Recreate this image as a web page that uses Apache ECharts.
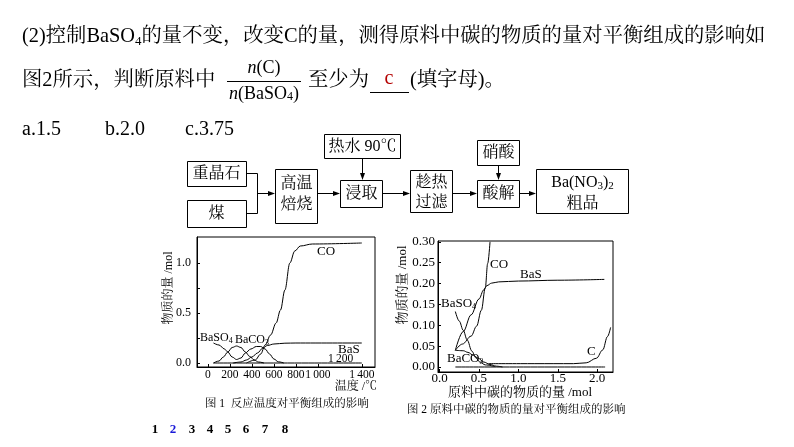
<!DOCTYPE html>
<html><head><meta charset="utf-8">
<script src="https://cdn.jsdelivr.net/npm/echarts@6/dist/echarts.min.js"></script>
<style>html,body{margin:0;padding:0;background:#fff}#c{width:794px;height:447px}</style>
</head><body><div id="c"></div>
<script>
// ================= DATA =================
// Figure 1: temperature (°C) vs amount (mol)
const fig1XTicks = [0, 200, 400, 600, 800, 1000, 1400];
const fig1YTicks = [0, 0.5, 1.0];
const fig1YMinor = [0, 0.25, 0.5, 0.75, 1.0];
const fig1CO = [[350,0.0],[430,0.03],[480,0.09],[520,0.18],[570,0.28],[620,0.4],[660,0.53],[700,0.73],[745,1.0],[790,1.12],[840,1.17],[950,1.19],[1400,1.2]];
const fig1BaSO4 = [[50,0.2],[100,0.18],[150,0.14],[180,0.11],[220,0.06],[260,0.035],[300,0.05],[340,0.1],[390,0.14],[440,0.165],[480,0.165],[520,0.14],[560,0.09],[600,0.04],[640,0.012],[690,0.0]];
const fig1BaCO3 = [[50,0.0],[100,0.02],[140,0.06],[180,0.11],[220,0.155],[260,0.17],[300,0.155],[340,0.11],[380,0.065],[420,0.03],[460,0.01],[510,0.0]];
const fig1BaS = [[230,0.0],[300,0.01],[350,0.03],[400,0.06],[450,0.1],[500,0.15],[540,0.175],[600,0.19],[700,0.198],[800,0.2],[1400,0.2]];
const fig1Base = [[50,0.0],[1400,0.0]];
// Figure 2: amount of carbon (mol) vs amount (mol)
const fig2XTicks = [0, 0.5, 1.0, 1.5, 2.0];
const fig2YTicks = [0, 0.05, 0.10, 0.15, 0.20, 0.25, 0.30];
const fig2CO = [[0.2,0.04],[0.29,0.055],[0.4,0.074],[0.47,0.098],[0.53,0.136],[0.58,0.19],[0.61,0.248],[0.64,0.30]];
const fig2BaS = [[0.2,0.04],[0.3,0.085],[0.4,0.125],[0.5,0.163],[0.56,0.185],[0.6,0.195],[0.66,0.201],[0.75,0.204],[1.0,0.206],[1.5,0.208],[2.09,0.21]];
const fig2BaSO4 = [[0.2,0.133],[0.25,0.11],[0.3,0.088],[0.35,0.065],[0.41,0.038],[0.46,0.022],[0.51,0.012],[0.58,0.005],[0.7,0.001]];
const fig2BaCO3 = [[0.2,0.04],[0.3,0.039],[0.36,0.035],[0.43,0.028],[0.49,0.021],[0.56,0.012],[0.64,0.006],[0.72,0.002],[0.8,0.0]];
const fig2C = [[0.62,0.008],[1.2,0.008],[1.7,0.008],[1.86,0.01],[1.99,0.021],[2.07,0.041],[2.13,0.073],[2.17,0.095]];
const fig2Base = [[0.2,0.0],[2.1,0.0]];

// ================= LAYOUT HELPERS =================
const FAM = "'Liberation Serif','Noto Serif CJK SC','Noto Sans CJK SC',serif";
const mctx = document.createElement('canvas').getContext('2d');
function tw(t, size, st, wt){ mctx.font = (st||'normal')+' '+(wt||'normal')+' '+size+'px '+FAM; return mctx.measureText(t).width; }
function txt(x, y, t, size, o){ o=o||{}; return {type:'text', x:x, y:y, rotation:o.rot||0, z:10, style:{text:t, fontSize:size, fontFamily:FAM, fontStyle:o.st||'normal', fontWeight:o.wt||'normal', fill:o.color||'#000', align:o.align||'left', verticalAlign:'middle'}}; }
function run(x, y, segs, center){
  let w = 0; segs.forEach(s=>{ w += tw(s.t, s.size, s.st, s.wt); });
  let cx = center ? x - w/2 : x; const out=[];
  segs.forEach(s=>{ out.push(txt(cx, y+(s.dy||0), s.t, s.size, s)); cx += tw(s.t, s.size, s.st, s.wt); });
  return out;
}
function box(x1,y1,x2,y2){ return {type:'rect', z:5, shape:{x:x1+0.5,y:y1+0.5,width:x2-x1,height:y2-y1}, style:{fill:'#fff',stroke:'#000',lineWidth:1}}; }
function seg(x1,y1,x2,y2){ return {type:'line', z:5, shape:{x1:x1,y1:y1,x2:x2,y2:y2}, style:{stroke:'#000',lineWidth:1}}; }
function arrowH(x1,x2,y){ return [seg(x1,y+0.5,x2-5,y+0.5), {type:'polygon', z:6, shape:{points:[[x2,y+0.5],[x2-7,y-2],[x2-7,y+3]]}, style:{fill:'#000'}}]; }
function arrowV(x,y1,y2){ return [seg(x+0.5,y1,x+0.5,y2-5), {type:'polygon', z:6, shape:{points:[[x+0.5,y2],[x-2,y2-7],[x+3,y2-7]]}, style:{fill:'#000'}}]; }

let G = [];
// ---- top text ----
const TS = 20.35;
G = G.concat(run(22, 37, [{t:'(2)控制BaSO',size:TS},{t:'4',size:13,dy:5},{t:'的量不变，改变C的量，测得原料中碳的物质的量对平衡组成的影响如',size:TS}]));
G = G.concat(run(22, 81, [{t:'图2所示，判断原料中',size:TS}]));
G = G.concat(run(264, 68, [{t:'n',size:18,st:'italic'},{t:'(C)',size:18}], true));
G.push(seg(227, 81.5, 301, 81.5));
G = G.concat(run(264, 94, [{t:'n',size:18,st:'italic'},{t:'(BaSO',size:18},{t:'4',size:12,dy:3},{t:')',size:18}], true));
G = G.concat(run(308, 81, [{t:'至少为',size:TS}]));
G.push(seg(370, 92.5, 409, 92.5));
G.push(txt(389, 79, 'c', 20, {color:'#b40000', align:'center'}));
G = G.concat(run(410, 81, [{t:'(填字母)。',size:TS}]));
G.push(txt(22, 130, 'a.1.5', 20));
G.push(txt(105, 130, 'b.2.0', 20));
G.push(txt(185, 130, 'c.3.75', 20));

// ---- flow chart ----
G.push(box(187,161,246,186)); G.push(txt(216.5,174,'重晶石',16,{align:'center'}));
G.push(box(187,200,246,227)); G.push(txt(216.5,214,'煤',16,{align:'center'}));
G.push(seg(246,173.5,257.5,173.5)); G.push(seg(246,213.5,257.5,213.5)); G.push(seg(257.5,173.5,257.5,213.5));
G = G.concat(arrowH(257,275,193));
G.push(box(275,169,317,223)); G.push(txt(296.5,184,'高温',16,{align:'center'})); G.push(txt(296.5,205,'焙烧',16,{align:'center'}));
G = G.concat(arrowH(317,340,193));
G.push(box(324,134,400,158)); G.push(txt(362.5,146.5,'热水 90℃',16,{align:'center'}));
G = G.concat(arrowV(362,158,180));
G.push(box(340,180,382,207)); G.push(txt(361.5,194,'浸取',16,{align:'center'}));
G = G.concat(arrowH(382,410,193));
G.push(box(410,170,452,212)); G.push(txt(431.5,183,'趁热',16,{align:'center'})); G.push(txt(431.5,203,'过滤',16,{align:'center'}));
G = G.concat(arrowH(452,477,193));
G.push(box(477,140,519,165)); G.push(txt(498.5,153,'硝酸',16,{align:'center'}));
G = G.concat(arrowV(498,165,180));
G.push(box(477,180,519,207)); G.push(txt(498.5,194,'酸解',16,{align:'center'}));
G = G.concat(arrowH(519,536,193));
G.push(box(536,169,628,213));
G = G.concat(run(582.5,183,[{t:'Ba(NO',size:16},{t:'3',size:11,dy:3},{t:')',size:16},{t:'2',size:11,dy:3}], true));
G.push(txt(582.5,204,'粗品',16,{align:'center'}));

// ---- figure 1 texts ----
G.push(txt(169, 288, '物质的量 /mol', 12, {rot:Math.PI/2, align:'center'}));
G = G.concat(run(200, 338, [{t:'BaSO',size:12},{t:'4',size:8,dy:3}]));
G = G.concat(run(235, 340, [{t:'BaCO',size:12},{t:'3',size:8,dy:3}]));
G.push(txt(317, 252, 'CO', 13));
G.push(txt(338, 350, 'BaS', 13));
G.push(txt(328, 359, '1\u2009200', 11.5));
G.push(txt(377, 387, '温度 /℃', 12, {align:'right'}));
G.push(txt(205, 404, '图 1  反应温度对平衡组成的影响', 11.5));
// ---- figure 2 texts ----
G.push(txt(403, 285, '物质的量 /mol', 13, {rot:Math.PI/2, align:'center'}));
G.push(txt(490, 265, 'CO', 13));
G.push(txt(520, 275, 'BaS', 13));
G = G.concat(run(441, 304, [{t:'BaSO',size:13},{t:'4',size:8,dy:3}]));
G = G.concat(run(447, 359, [{t:'BaCO',size:13},{t:'3',size:8,dy:3}]));
G.push(txt(587, 352, 'C', 13));
G.push(txt(520, 393, '原料中碳的物质的量 /mol', 13, {align:'center'}));
G.push(txt(407, 410, '图 2 原料中碳的物质的量对平衡组成的影响', 11.5));
// ---- page numbers ----
const pageNums = ['1','2','3','4','5','6','7','8'];
const pageX = [155,173,192,210,228,246,265,285];
pageNums.forEach((p,i)=>G.push(txt(pageX[i],430,p,13,{wt:'bold',align:'center',color: p==='2' ? '#1a1ad8' : '#000'})));

// ================= CHART =================
const axisCommon = {axisLine:{onZero:false, lineStyle:{color:'#000',width:1}}, splitLine:{show:false}};
function lineSeries(data, xi){ return {type:'line', xAxisIndex:xi, yAxisIndex:xi, data:data, smooth:0.35, smoothMonotone:'x', symbol:'none', silent:true, lineStyle:{color:'#000',width:1}}; }
const option = {
  animation:false,
  backgroundColor:'#fff',
  grid:[{left:197, top:237, width:178, height:130, show:true, borderColor:'#000', borderWidth:1, backgroundColor:'transparent'},
        {left:438, top:241, width:175, height:131, show:true, borderColor:'#000', borderWidth:1, backgroundColor:'transparent'}],
  xAxis:[
    Object.assign({gridIndex:0, type:'value', min:-100, max:1520,
      axisTick:{inside:true, length:3, customValues:fig1XTicks, lineStyle:{color:'#000'}},
      axisLabel:{customValues:fig1XTicks, margin:2, fontSize:11.5, color:'#000', fontFamily:FAM,
        formatter:v=> v>=1000 ? '1\u2009'+String(v).slice(1) : String(v)}}, axisCommon),
    Object.assign({gridIndex:1, type:'value', min:-0.02, max:2.2,
      axisTick:{inside:true, length:3, customValues:fig2XTicks, lineStyle:{color:'#000'}},
      axisLabel:{customValues:fig2XTicks, margin:0, fontSize:13, color:'#000', fontFamily:FAM,
        formatter:v=> v.toFixed(1)}}, axisCommon)
  ],
  yAxis:[
    Object.assign({gridIndex:0, type:'value', min:-0.04, max:1.26,
      axisTick:{inside:true, length:3, customValues:fig1YMinor, lineStyle:{color:'#000'}},
      axisLabel:{customValues:fig1YTicks, margin:6, fontSize:12, color:'#000', fontFamily:FAM,
        formatter:v=> v.toFixed(1)}}, axisCommon),
    Object.assign({gridIndex:1, type:'value', min:-0.012, max:0.302,
      axisTick:{inside:true, length:3, customValues:fig2YTicks, lineStyle:{color:'#000'}},
      axisLabel:{customValues:fig2YTicks, margin:3, fontSize:13, color:'#000', fontFamily:FAM,
        formatter:v=> v.toFixed(2)}}, axisCommon)
  ],
  series:[
    lineSeries(fig1CO,0), lineSeries(fig1BaSO4,0), lineSeries(fig1BaCO3,0), lineSeries(fig1BaS,0), lineSeries(fig1Base,0),
    lineSeries(fig2CO,1), lineSeries(fig2BaS,1), lineSeries(fig2BaSO4,1), lineSeries(fig2BaCO3,1), lineSeries(fig2C,1), lineSeries(fig2Base,1)
  ],
  graphic: G
};
const chart = echarts.init(document.getElementById('c'), null, {renderer:'canvas', width:794, height:447});
chart.setOption(option);
</script>
</body></html>
